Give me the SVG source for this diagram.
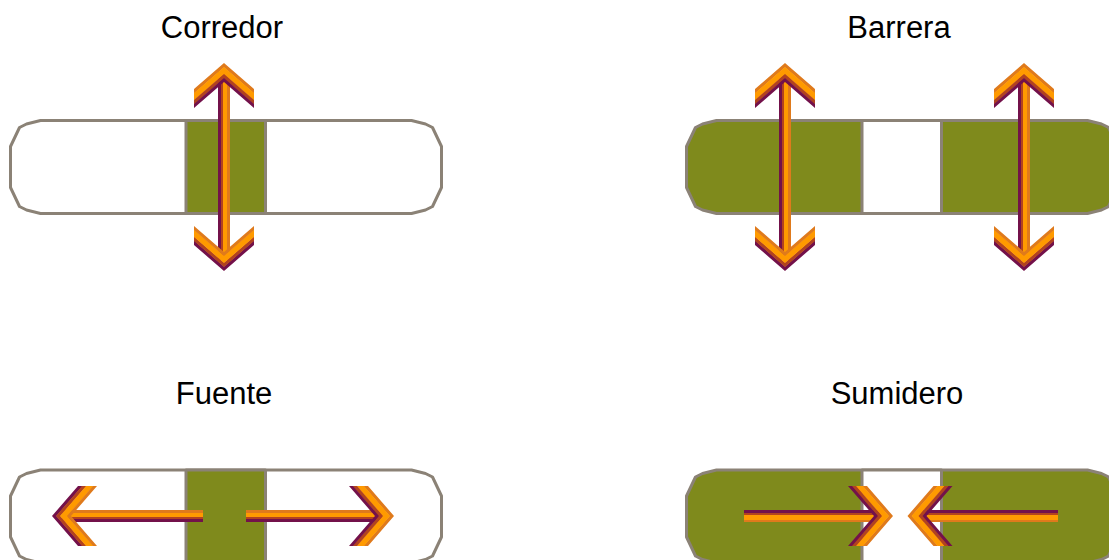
<svg xmlns="http://www.w3.org/2000/svg" width="1109" height="560" viewBox="0 0 1109 560">
  <style>
    .lbl { font-family: "Liberation Sans", Arial, sans-serif; font-size: 31px; fill: #000; text-anchor: middle; }
    .frame { stroke: #8b8276; stroke-width: 3; stroke-linejoin: round; }
    .olive { fill: #7f8a1c; }
    .white { fill: #ffffff; }
    .c1 { fill: #df7a1c; }
    .c2 { fill: #ff9a00; }
    .c3 { fill: #b2431f; }
    .c4 { fill: #73114a; }
  </style>
  <defs>
    <polygon id="pill" points="40.5,0 26.5,3.5 19.5,7 10.5,26 10.5,67 19.5,86 26.5,89.5 40.5,93 411.5,93 425.5,89.5 432.5,86 441.5,67 441.5,26 432.5,7 425.5,3.5 411.5,0"/>
    <g id="headA">
      <polygon class="c1" points="-30,26 0,0 30,26 30,30.5 0,4.5 -30,30.5"/>
      <polygon class="c2" points="-30,30 0,4 30,30 30,37.5 0,11.5 -30,37.5"/>
      <polygon class="c3" points="-30,37 0,11 30,37 30,41.5 0,15.5 -30,41.5"/>
      <polygon class="c4" points="-30,41 0,15 30,41 30,45 0,19 -30,45"/>
    </g>
    <g id="headB">
      <polygon class="c4" points="-30,26 0,0 30,26 30,30.5 0,4.5 -30,30.5"/>
      <polygon class="c3" points="-30,30 0,4 30,30 30,34.5 0,8.5 -30,34.5"/>
      <polygon class="c2" points="-30,34 0,8 30,34 30,41.5 0,15.5 -30,41.5"/>
      <polygon class="c1" points="-30,41 0,15 30,41 30,45 0,19 -30,45"/>
    </g>
    <linearGradient id="gv" x1="0" y1="0" x2="1" y2="0">
      <stop offset="0" stop-color="#73114a"/><stop offset="0.25" stop-color="#73114a"/>
      <stop offset="0.25" stop-color="#b2431f"/><stop offset="0.42" stop-color="#b2431f"/>
      <stop offset="0.42" stop-color="#ff9a00"/><stop offset="0.78" stop-color="#ff9a00"/>
      <stop offset="0.78" stop-color="#df7a1c"/><stop offset="1" stop-color="#df7a1c"/>
    </linearGradient>
    <linearGradient id="gf" x1="0" y1="0" x2="0" y2="1">
      <stop offset="0" stop-color="#df7a1c"/><stop offset="0.22" stop-color="#df7a1c"/>
      <stop offset="0.22" stop-color="#ff9a00"/><stop offset="0.55" stop-color="#ff9a00"/>
      <stop offset="0.55" stop-color="#b2431f"/><stop offset="0.75" stop-color="#b2431f"/>
      <stop offset="0.75" stop-color="#73114a"/><stop offset="1" stop-color="#73114a"/>
    </linearGradient>
    <linearGradient id="gs" x1="0" y1="0" x2="0" y2="1">
      <stop offset="0" stop-color="#73114a"/><stop offset="0.25" stop-color="#73114a"/>
      <stop offset="0.25" stop-color="#b2431f"/><stop offset="0.45" stop-color="#b2431f"/>
      <stop offset="0.45" stop-color="#ff9a00"/><stop offset="0.8" stop-color="#ff9a00"/>
      <stop offset="0.8" stop-color="#df7a1c"/><stop offset="1" stop-color="#df7a1c"/>
    </linearGradient>
  </defs>
  <rect width="1109" height="560" fill="#ffffff"/>

  <g id="corredor">
    <text class="lbl" x="222" y="38">Corredor</text>
    <use href="#pill" class="frame white" y="120.5"/>
    <rect class="frame olive" x="186" y="120.5" width="79.5" height="93"/>
  </g>

  <g id="barrera">
    <text class="lbl" x="899" y="38">Barrera</text>
    <use href="#pill" class="frame olive" x="676" y="120.5"/>
    <rect class="frame white" x="862" y="120.5" width="79.5" height="93"/>
  </g>

  <g id="fuente">
    <text class="lbl" x="224" y="404">Fuente</text>
    <use href="#pill" class="frame white" y="470"/>
    <rect class="frame olive" x="186" y="470" width="79.5" height="93"/>
  </g>

  <g id="sumidero">
    <text class="lbl" x="897" y="404">Sumidero</text>
    <use href="#pill" class="frame olive" x="676" y="470"/>
    <rect class="frame white" x="862" y="470" width="79.5" height="93"/>
  </g>

  <g id="arrows">
    <rect x="218" y="72" width="12" height="188" fill="url(#gv)"/>
    <use href="#headA" transform="translate(224,63)"/>
    <use href="#headB" transform="translate(224,271) rotate(180)"/>

    <rect x="779" y="72" width="12" height="188" fill="url(#gv)"/>
    <use href="#headA" transform="translate(785,63)"/>
    <use href="#headB" transform="translate(785,271) rotate(180)"/>

    <rect x="1018" y="72" width="12" height="188" fill="url(#gv)"/>
    <use href="#headA" transform="translate(1024,63)"/>
    <use href="#headB" transform="translate(1024,271) rotate(180)"/>

    <rect x="62" y="510" width="141" height="12" fill="url(#gf)"/>
    <use href="#headB" transform="translate(52,516) rotate(-90)"/>

    <rect x="246" y="510" width="138" height="12" fill="url(#gf)"/>
    <use href="#headA" transform="translate(394,516) rotate(90)"/>

    <rect x="744" y="510" width="139" height="12" fill="url(#gs)"/>
    <use href="#headA" transform="translate(893,516) rotate(90)"/>

    <rect x="918" y="510" width="140" height="12" fill="url(#gs)"/>
    <use href="#headA" transform="translate(907.5,516) rotate(-90)"/>
  </g>
</svg>
